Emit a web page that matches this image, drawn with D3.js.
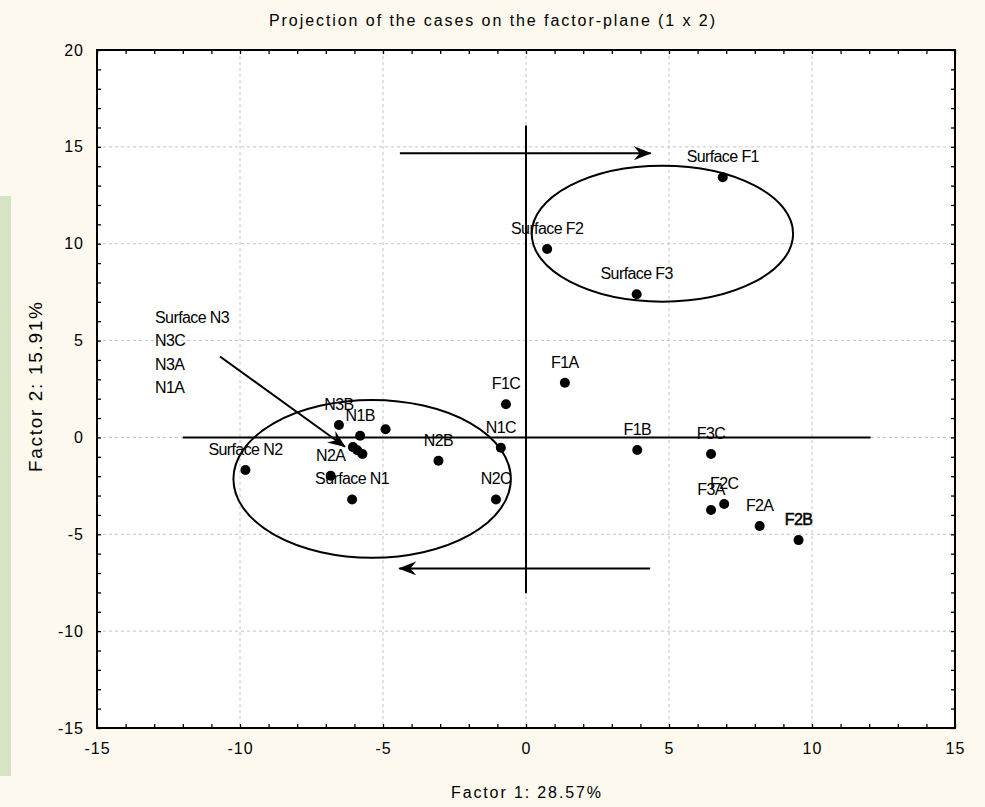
<!DOCTYPE html>
<html><head><meta charset="utf-8">
<script src="https://cdn.jsdelivr.net/npm/d3@7"></script>
<style>
html,body{margin:0;padding:0;background:#fdf9ee;}
svg{display:block;}
text{font-family:"Liberation Sans",Arial,sans-serif;fill:#000;}
</style></head>
<body>
<svg id="chart" width="985" height="807"></svg>
<script>
// ---- data ----
const title = "Projection of the cases on the factor-plane (1 x 2)";
const xLabel = "Factor 1: 28.57%";
const yLabel = "Factor 2: 15.91%";
const xDomain = [-15, 15];
const yDomain = [-15, 20];
const xTicks = [-15, -10, -5, 0, 5, 10, 15];
const yTicks = [-15, -10, -5, 0, 5, 10, 15, 20];

// cases: name, factor1, factor2
const caseNames = ["Surface F1","Surface F2","Surface F3","F1A","F1C","N1C","N2B","N2C","F1B","F3C","F2C","F3A","F2A","F2B",
  "Surface N2","N3B","N1B","Surface N3","N3C","N3A","N1A","N2A","Surface N1"];
const factor1 = [6.88,0.74,3.87,1.36,-0.70,-0.88,-3.06,-1.05,3.89,6.47,6.93,6.47,8.17,9.53,
  -9.81,-6.54,-5.80,-4.91,-6.05,-5.90,-5.72,-6.83,-6.08];
const factor2 = [13.43,9.73,7.39,2.82,1.71,-0.53,-1.20,-3.20,-0.65,-0.86,-3.44,-3.75,-4.57,-5.30,
  -1.68,0.64,0.09,0.42,-0.50,-0.66,-0.86,-1.98,-3.20];
// labels that were listed aside instead of next to their point
const listedLabels = ["Surface N3","N3C","N3A","N1A"];

// group ellipses: center x, center y, radius x, radius y
const ellipseCx = [4.77, -5.38];
const ellipseCy = [10.52, -2.14];
const ellipseRx = [4.57, 4.85];
const ellipseRy = [3.51, 4.07];

// reference cross lines
const crossH = {x1:-12.0, x2:12.05, y:0};
const crossV = {x:0, y1:16.1, y2:-8.05};
// arrows: from (x1,y1) to (x2,y2)
const arrowX1 = [-4.41, 4.34, -10.7];
const arrowY1 = [14.67, -6.76, 4.18];
const arrowX2 = [4.36, -4.43, -6.33];
const arrowY2 = [14.67, -6.76, -0.48];

// ---- layout ----
const svg = d3.select("#chart");
const L = 97, T = 50, W = 858, H = 678;
const x = d3.scaleLinear().domain(xDomain).range([L, L + W]);
const y = d3.scaleLinear().domain(yDomain).range([T + H, T]);

// left decorative strip
svg.append("rect").attr("x", 0).attr("y", 196).attr("width", 11).attr("height", 580).attr("fill", "#d7e4c3");

// plot background
svg.append("rect").attr("x", L).attr("y", T).attr("width", W).attr("height", H).attr("fill", "#fff");

// grid
const gridX = xTicks.filter(v => v > xDomain[0] && v < xDomain[1]);
const gridY = yTicks.filter(v => v > yDomain[0] && v < yDomain[1]);
svg.append("g").selectAll("line").data(gridX).join("line")
  .attr("x1", d => x(d)).attr("x2", d => x(d)).attr("y1", T).attr("y2", T + H)
  .attr("stroke", "#c4c4c4").attr("stroke-dasharray", "3,3");
svg.append("g").selectAll("line").data(gridY).join("line")
  .attr("y1", d => y(d)).attr("y2", d => y(d)).attr("x1", L).attr("x2", L + W)
  .attr("stroke", "#c4c4c4").attr("stroke-dasharray", "3,3");

// minor ticks (inward) on all sides via d3 axes
const minorX = d3.range(xDomain[0], xDomain[1] + 1, 1);
const minorY = d3.range(yDomain[0], yDomain[1] + 1, 1);
function tickAxis(axis, tx, ty) {
  const g = svg.append("g").attr("transform", `translate(${tx},${ty})`).call(axis);
  g.select(".domain").remove();
  g.selectAll("text").remove();
  g.selectAll("line").attr("stroke", "#000").attr("stroke-width", 1.3);
}
tickAxis(d3.axisBottom(x).tickValues(minorX).tickSize(-4), 0, T + H);
tickAxis(d3.axisTop(x).tickValues(minorX).tickSize(-4), 0, T);
tickAxis(d3.axisLeft(y).tickValues(minorY).tickSize(-4), L, 0);
tickAxis(d3.axisRight(y).tickValues(minorY).tickSize(-4), L + W, 0);

// tick labels via axes
const fmt = d => String(d);
const gx = svg.append("g").attr("transform", `translate(0,${T + H})`)
  .call(d3.axisBottom(x).tickValues(xTicks).tickSize(0).tickPadding(15).tickFormat(fmt));
gx.select(".domain").remove();
gx.selectAll("text").attr("font-size", 16).attr("letter-spacing", "1px")
  .attr("font-family", "'Liberation Sans',Arial,sans-serif").attr("fill", "#000");
const gy = svg.append("g").attr("transform", `translate(${L},0)`)
  .call(d3.axisLeft(y).tickValues(yTicks).tickSize(0).tickPadding(13).tickFormat(fmt));
gy.select(".domain").remove();
gy.selectAll("text").attr("font-size", 16).attr("letter-spacing", "1px")
  .attr("font-family", "'Liberation Sans',Arial,sans-serif").attr("fill", "#000");

// frame
svg.append("rect").attr("x", L).attr("y", T).attr("width", W).attr("height", H)
  .attr("fill", "none").attr("stroke", "#000").attr("stroke-width", 2);

// arrow marker
svg.append("defs").append("marker").attr("id", "ah")
  .attr("viewBox", "0 0 18 14").attr("refX", 17).attr("refY", 7)
  .attr("markerWidth", 18).attr("markerHeight", 14).attr("markerUnits", "userSpaceOnUse")
  .attr("orient", "auto")
  .append("path").attr("d", "M0,0 L18,7 L0,14 L6,7 Z").attr("fill", "#000");

const ink = svg.append("g").attr("stroke", "#000").attr("stroke-width", 2).attr("fill", "none");
// cross
ink.append("line").attr("x1", x(crossH.x1)).attr("x2", x(crossH.x2)).attr("y1", y(crossH.y)).attr("y2", y(crossH.y));
ink.append("line").attr("x1", x(crossV.x)).attr("x2", x(crossV.x)).attr("y1", y(crossV.y1)).attr("y2", y(crossV.y2));
// ellipses
ink.selectAll("ellipse").data(ellipseCx.map((c, i) => i)).join("ellipse")
  .attr("cx", i => x(ellipseCx[i])).attr("cy", i => y(ellipseCy[i]))
  .attr("rx", i => x(ellipseCx[i] + ellipseRx[i]) - x(ellipseCx[i]))
  .attr("ry", i => y(ellipseCy[i] - ellipseRy[i]) - y(ellipseCy[i]));
// arrows
ink.selectAll("line.arrow").data(arrowX1.map((c, i) => i)).join("line").attr("class", "arrow")
  .attr("x1", i => x(arrowX1[i])).attr("y1", i => y(arrowY1[i]))
  .attr("x2", i => x(arrowX2[i])).attr("y2", i => y(arrowY2[i]))
  .attr("marker-end", "url(#ah)");

// points
const pts = caseNames.map((n, i) => ({name: n, f1: factor1[i], f2: factor2[i]}));
svg.append("g").selectAll("circle").data(pts).join("circle")
  .attr("cx", d => x(d.f1)).attr("cy", d => y(d.f2)).attr("r", 5).attr("fill", "#000");
svg.append("g").selectAll("text").data(pts.filter(d => !listedLabels.includes(d.name))).join("text")
  .attr("x", d => x(d.f1)).attr("y", d => y(d.f2) - 15)
  .attr("text-anchor", "middle").attr("font-size", 16).attr("letter-spacing", "-0.6px")
  .attr("stroke", d => d.name === "F2B" ? "#000" : null).attr("stroke-width", 0.5)
  .text(d => d.name);

// listed labels
svg.append("g").selectAll("text").data(listedLabels).join("text")
  .attr("x", x(-12.97)).attr("y", (d, i) => y(5.92) + i * 23.5)
  .attr("font-size", 16).attr("letter-spacing", "-0.6px").text(d => d);

// titles
svg.append("text").attr("x", 492).attr("y", 26).attr("text-anchor", "middle")
  .attr("font-size", 16).attr("textLength", 446).attr("lengthAdjust", "spacing").text(title);
svg.append("text").attr("x", x(0)).attr("y", 798).attr("text-anchor", "middle")
  .attr("font-size", 16).attr("textLength", 150).attr("lengthAdjust", "spacing").text(xLabel);
svg.append("text").attr("transform", `translate(42,${y(2.6)}) rotate(-90)`).attr("text-anchor", "middle")
  .attr("font-size", 19).attr("textLength", 170).attr("lengthAdjust", "spacing").text(yLabel);
</script>
</body></html>
